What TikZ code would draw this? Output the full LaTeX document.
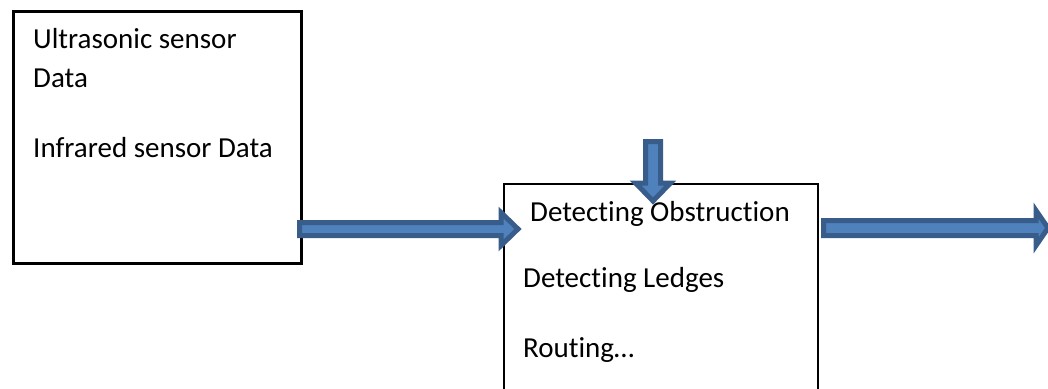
\documentclass[tikz,border=0pt]{standalone}
\usepackage{fontspec}
\setmainfont{Carlito}[Ligatures={NoCommon}]
\usetikzlibrary{calc}
\definecolor{arrowfill}{HTML}{4F81BD}
\definecolor{arrowline}{HTML}{385D8A}
\tikzset{
  boxstyle/.style={draw=black, rectangle, inner sep=0pt, anchor=north west},
  txt/.style={inner sep=0pt, anchor=base west, font=\fontsize{29}{35}\selectfont},
  blockarrowstyle/.style={fill=arrowfill, draw=arrowline, line width=5pt, line join=miter},
}
% #1 start, #2 end, #3 shaft half width, #4 head half width, #5 head length
\newcommand\blockarrow[5]{%
  \coordinate (hb) at ($(#2)!#5!(#1)$);
  \path[blockarrowstyle]
    ($(#1)!#3!90:(#2)$) -- ($(hb)!#3!90:(#2)$) -- ($(hb)!#4!90:(#2)$) -- (#2)
    -- ($(hb)!#4!-90:(#2)$) -- ($(hb)!#3!-90:(#2)$) -- ($(#1)!#3!-90:(#2)$) -- cycle;
}
\begin{document}
\begin{tikzpicture}[x=1pt,y=-1pt]
\useasboundingbox (0,0) rectangle (1048,388);
\clip (0,0) rectangle (1048,388);
% boxes
\node[boxstyle, line width=3pt, minimum width=288pt, minimum height=252pt] (inbox) at (12,10) {};
\node[boxstyle, line width=1.8pt, minimum width=314pt, minimum height=260pt] (procbox) at (503,183) {};
% texts
\node[txt] (t1) at (33,48) {Ultrasonic sensor};
\node[txt] (t2) at (33,87) {Data};
\node[txt] (t3) at (33,157) {Infrared sensor Data};
\node[txt] (t4) at (530,221) {Detecting Obstruction};
\node[txt] (t5) at (523,287) {Detecting Ledges};
\node[txt] (t6) at (523,357) {Routing…};
% arrows
\coordinate (a1s) at (299.5,229);
\coordinate (a1e) at (518,229);
\coordinate (a2s) at (653,141.5);
\coordinate (a2e) at (653,201);
\coordinate (a3s) at (823.5,228);
\coordinate (a3e) at (1048,228);
\blockarrow{a1s}{a1e}{6.5pt}{16.5pt}{17pt}
\blockarrow{a2s}{a2e}{7.5pt}{17.5pt}{18pt}
\blockarrow{a3s}{a3e}{7.5pt}{17.5pt}{12pt}
\end{tikzpicture}
\end{document}
